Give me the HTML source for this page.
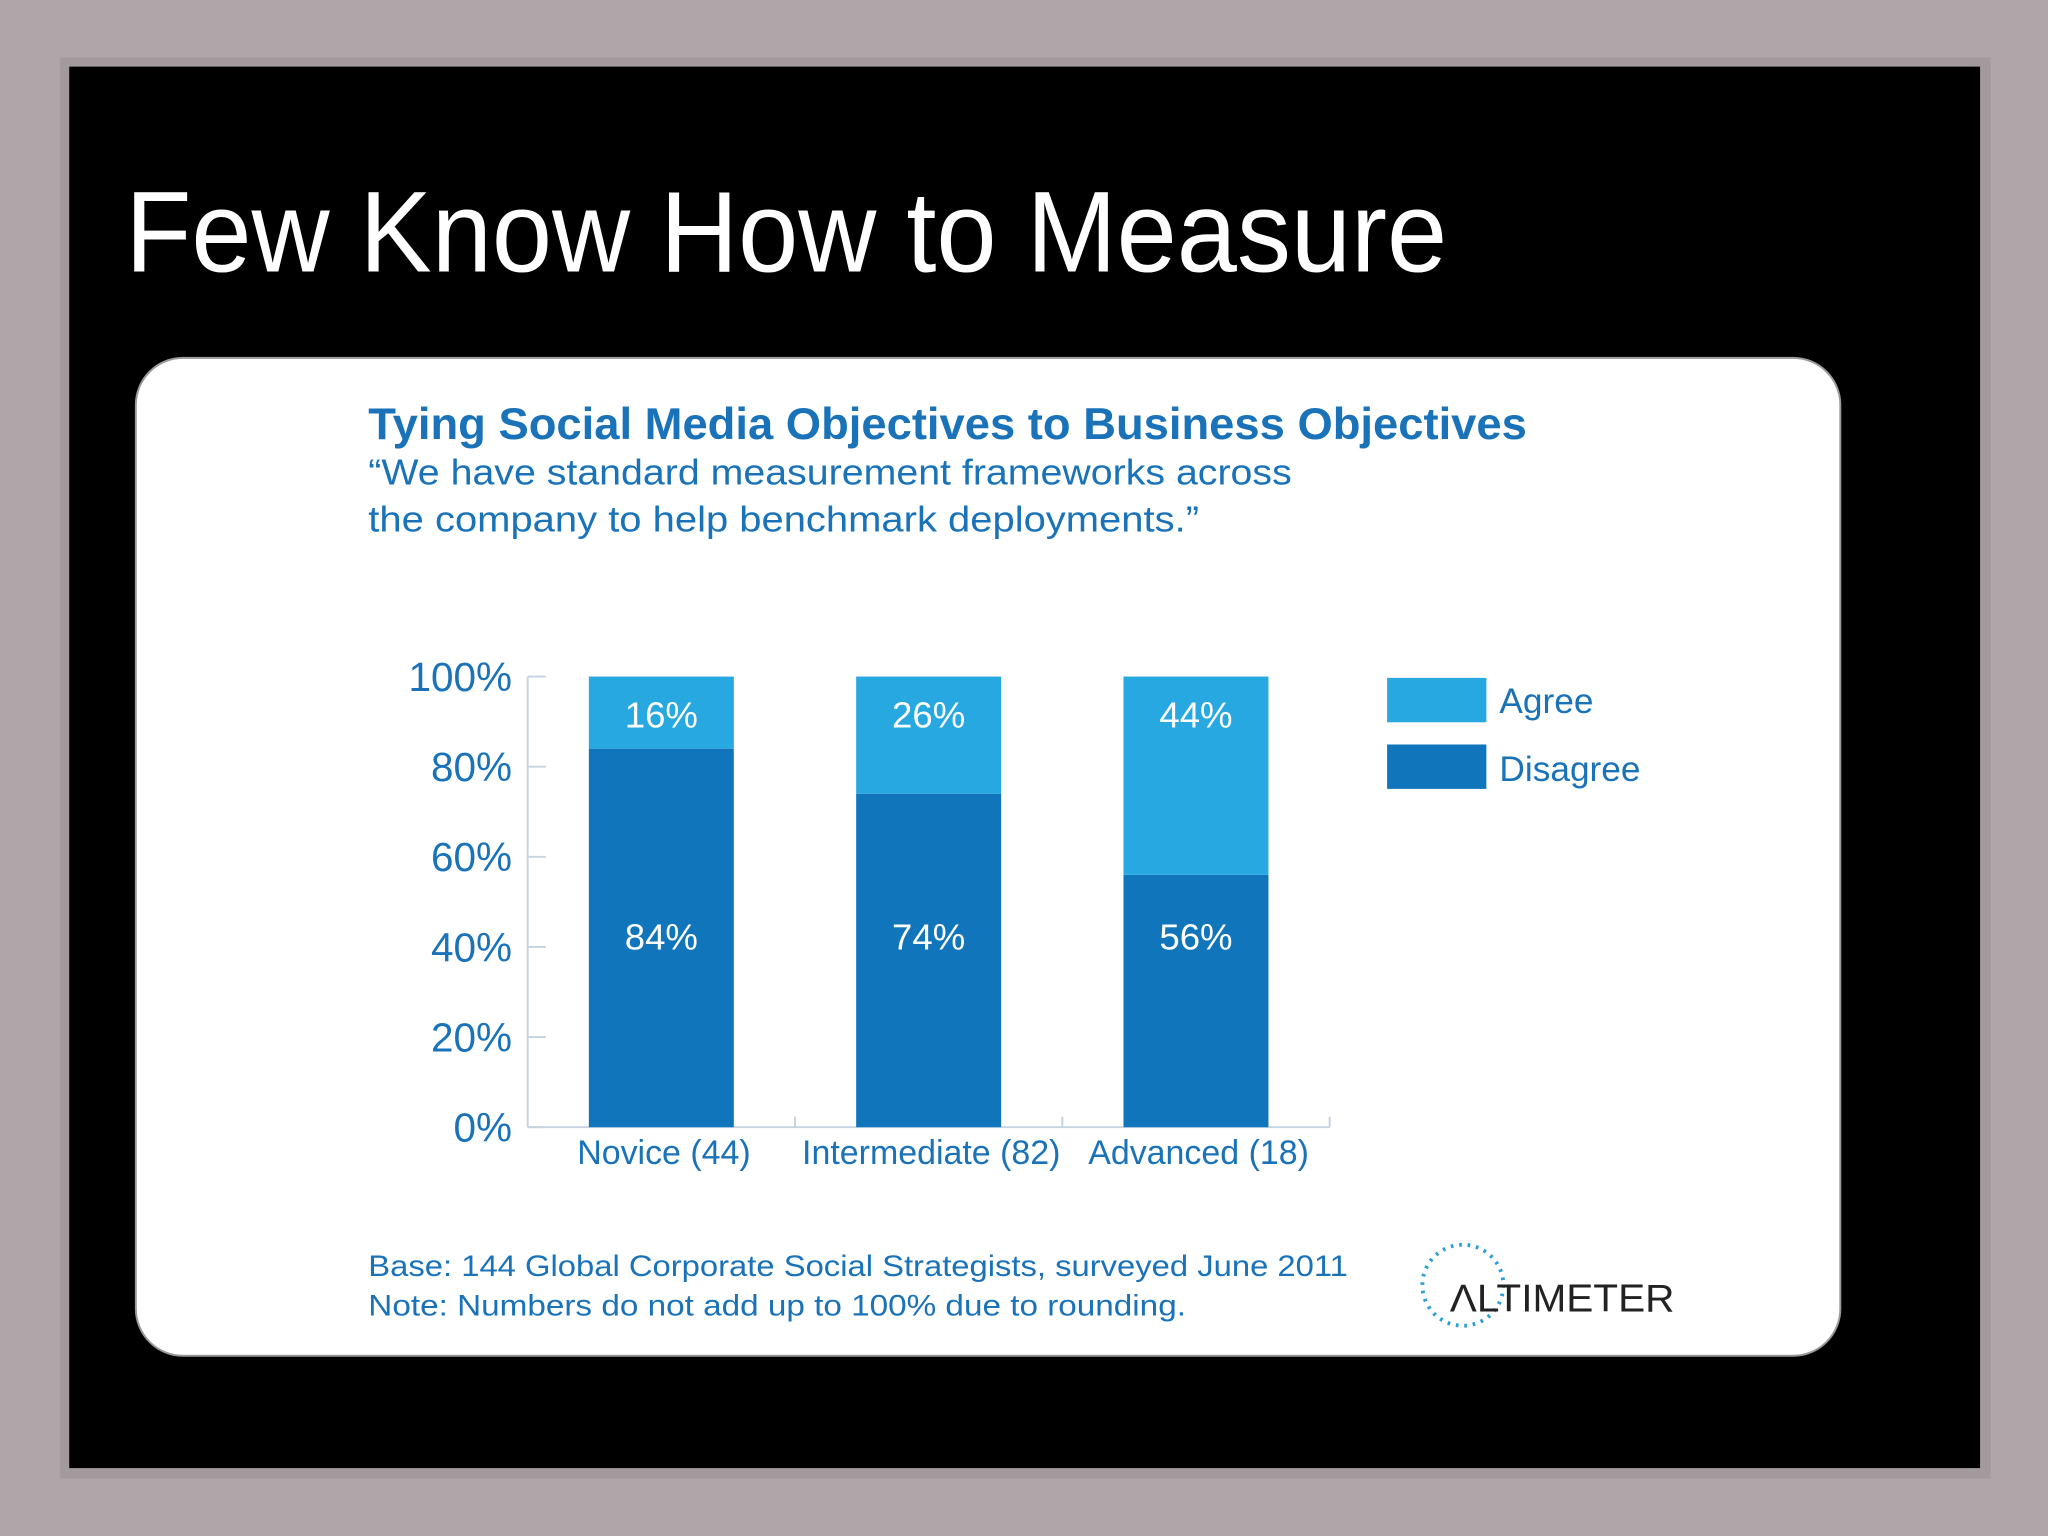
<!DOCTYPE html>
<html><head><meta charset="utf-8"><style>
html,body{margin:0;padding:0;background:#aea6a8;}
svg{display:block;font-family:"Liberation Sans",Arial,sans-serif;}
</style></head><body>
<svg width="2048" height="1536" viewBox="0 0 1568 1176">
<rect x="0" y="0" width="1568" height="1176" fill="#aea6a8"/>
<rect x="46" y="44" width="1478" height="1088" fill="#9a9394" opacity="0.6"/>
<rect x="53" y="51" width="1463" height="1073" fill="#000"/>
<text x="96" y="208" font-size="88" fill="#fff" textLength="1012" lengthAdjust="spacingAndGlyphs">Few Know How to Measure</text>
<rect x="104" y="274" width="1305" height="764" rx="36" fill="#fff" stroke="#999" stroke-width="1.5"/>
<text x="282" y="336" font-size="34" font-weight="bold" fill="#1a72b8" textLength="887" lengthAdjust="spacingAndGlyphs">Tying Social Media Objectives to Business Objectives</text>
<text x="282" y="371" font-size="28" fill="#1a72b8" textLength="707" lengthAdjust="spacingAndGlyphs">“We have standard measurement frameworks across</text>
<text x="282" y="407" font-size="28" fill="#1a72b8" textLength="636" lengthAdjust="spacingAndGlyphs">the company to help benchmark deployments.”</text>
<g id="chart"></g>
<g>
<rect x="1062" y="519" width="76" height="34" fill="#27a8e0"/>
<text x="1148" y="546" font-size="27" fill="#1a72b8">Agree</text>
<rect x="1062" y="570" width="76" height="34" fill="#1075bb"/>
<text x="1148" y="598" font-size="27" fill="#1a72b8">Disagree</text>
</g>
<text x="282" y="977" font-size="23" fill="#1a72b8" textLength="750" lengthAdjust="spacingAndGlyphs">Base: 144 Global Corporate Social Strategists, surveyed June 2011</text>
<text x="282" y="1007" font-size="23" fill="#1a72b8" textLength="626" lengthAdjust="spacingAndGlyphs">Note: Numbers do not add up to 100% due to rounding.</text>
<g>
<circle cx="1120" cy="984" r="31" fill="none" stroke="#2a9fd6" stroke-width="3" stroke-dasharray="2 4.5"/>
<text x="1110" y="1004" font-size="30" fill="#222" textLength="172" lengthAdjust="spacingAndGlyphs">ΛLTIMETER</text>
</g>
</svg>
<script>
const categories = ["Novice (44)", "Intermediate (82)", "Advanced (18)"];
const disagreeValues = [84, 74, 56];
const agreeValues = [16, 26, 44];
const yTicks = [0, 20, 40, 60, 80, 100];
const yTickLabels = ["0%", "20%", "40%", "60%", "80%", "100%"];

const NS = "http://www.w3.org/2000/svg";
const g = document.getElementById("chart");
const x0 = 404, x1 = 1018, yBase = 863, yTop = 518;
const yScale = v => yBase - (v / 100) * (yBase - yTop);
const bandW = (x1 - x0) / categories.length;
const barW = 111;
const xCenter = i => x0 + bandW * (i + 0.5);
function mk(tag, attrs, txt) {
  const e = document.createElementNS(NS, tag);
  for (const k in attrs) e.setAttribute(k, attrs[k]);
  if (txt !== undefined) e.textContent = txt;
  g.appendChild(e);
  return e;
}
let e = mk("line", {x1: x0, y1: yTop, x2: x0, y2: yBase, stroke: "#c5d3e3", "stroke-width": 1.5});


e = mk("line", {x1: x0, y1: yBase, x2: x1, y2: yBase, stroke: "#c5d3e3", "stroke-width": 1.5});


for (let i = 1; i <= categories.length; i++) {
  e = mk("line", {x1: x0 + bandW * i, y1: yBase - 8, x2: x0 + bandW * i, y2: yBase, stroke: "#c5d3e3", "stroke-width": 1.5});
  
  
}
yTicks.forEach((t, i) => {
  const y = yScale(t);
  e = mk("line", {x1: x0, y1: y, x2: x0 + 14, y2: y, stroke: "#c5d3e3", "stroke-width": 1.5});
  
  
  e = mk("text", {x: 392, y: y + 11, "font-size": 31, fill: "#1a72b8", "text-anchor": "end"}, yTickLabels[i]);
  
  
});
categories.forEach((c, i) => {
  const cx = xCenter(i), bx = cx - barW / 2;
  const d = disagreeValues[i], a = agreeValues[i];
  e = mk("rect", {x: bx, y: yScale(d), width: barW, height: yBase - yScale(d), fill: "#1075bb"});
  
  
  e = mk("rect", {x: bx, y: yScale(d + a), width: barW, height: yScale(d) - yScale(d + a), fill: "#27a8e0"});
  
  
  e = mk("text", {x: cx, y: 557, "font-size": 28, fill: "#fff", "text-anchor": "middle"}, a + "%");
  
  
  e = mk("text", {x: cx, y: 727, "font-size": 28, fill: "#fff", "text-anchor": "middle"}, d + "%");
  
  
  e = mk("text", {x: cx + 2, y: 891, "font-size": 26, fill: "#1a72b8", "text-anchor": "middle"}, c);
  
  
});
</script>
</body></html>
